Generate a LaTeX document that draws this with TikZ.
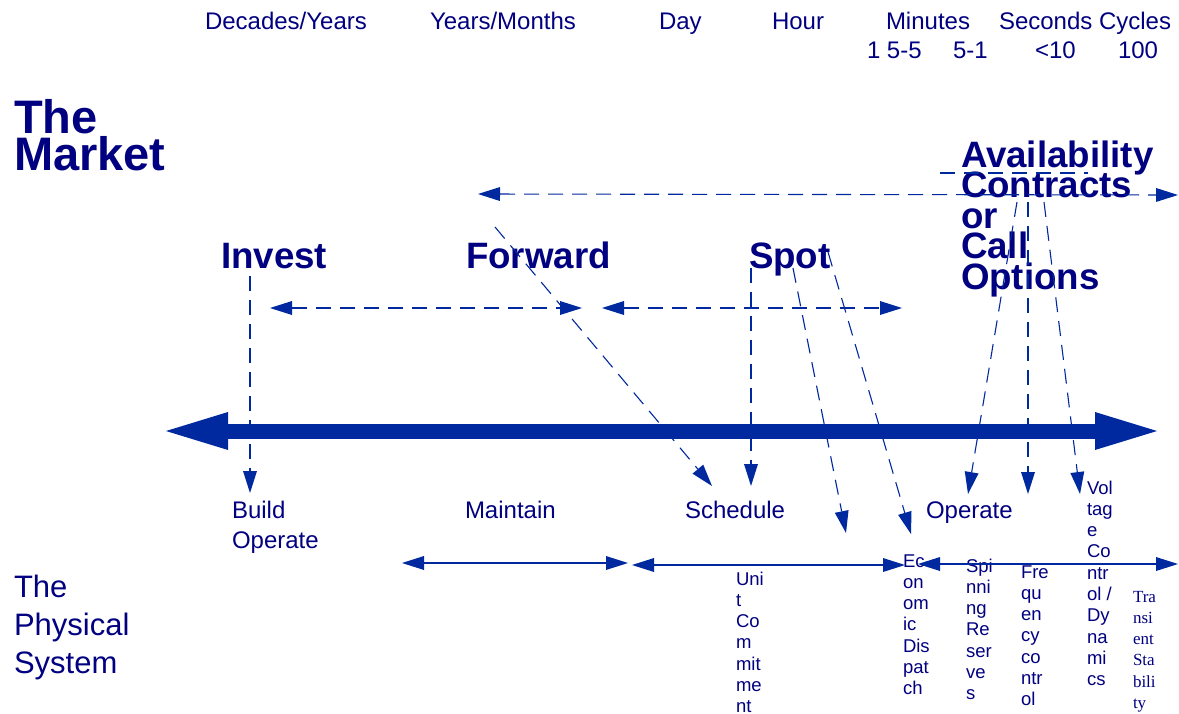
\documentclass[tikz,border=0pt]{standalone}
\usepackage{fontspec}
\setmainfont{Liberation Sans}
\newfontfamily\serifface{Liberation Serif}
\usetikzlibrary{arrows.meta}
\definecolor{txtblue}{RGB}{0,0,128}
\definecolor{lineblue}{RGB}{0,41,160}
\newcommand\vstk[2]{\vtop{\baselineskip=#1\lineskiplimit=-1000pt\relax #2}}
\newcommand\rw[1]{\hbox{#1}}
\tikzset{
  txt/.style={anchor=base west, inner sep=0pt, outer sep=0pt, text=txtblue},
  timetxt/.style={txt, font=\fontsize{24}{28}\selectfont},
  bigtitle/.style={txt, font=\fontsize{47}{37}\selectfont\bfseries},
  midtitle/.style={txt, font=\fontsize{36.7}{30.5}\selectfont\bfseries},
  smalltxt/.style={txt, font=\fontsize{18.5}{21.3}\selectfont},
  seriftxt/.style={txt, font=\serifface\fontsize{17}{21.3}\selectfont},
  systxt/.style={txt, font=\fontsize{31}{38}\selectfont},
  dashlink/.style={draw=lineblue, line width=1.1pt, dash pattern=on 15pt off 9pt,
     -{Triangle[length=22pt,width=14pt,line width=0pt]}},
  dashboth/.style={dashlink, {Triangle[length=22pt,width=14pt,line width=0pt]}-{Triangle[length=22pt,width=14pt,line width=0pt]}},
  dashplain/.style={draw=lineblue, line width=1.1pt, dash pattern=on 15pt off 9pt},
  solidboth/.style={draw=lineblue, line width=2pt,
     {Triangle[length=22pt,width=14pt,line width=0pt]}-{Triangle[length=22pt,width=14pt,line width=0pt]}},
  bigarrow/.style={draw=lineblue, line width=15pt,
     {Triangle[length=62pt,width=38pt,line width=0pt]}-{Triangle[length=62pt,width=38pt,line width=0pt]}}
}
\begin{document}
\begin{tikzpicture}[x=1pt,y=-1pt]
\fill[white] (0,0) rectangle (1179,713);
\useasboundingbox (0,0) rectangle (1179,713);

% time scale
\node[timetxt] (tDec) at (205,29) {Decades/Years};
\node[timetxt] (tYM) at (430,29) {Years/Months};
\node[timetxt] (tDay) at (659,29) {Day};
\node[timetxt] (tHour) at (772,29) {Hour};
\node[timetxt] (tMin) at (886,29) {Minutes};
\node[timetxt] (tSec) at (999,29) {Seconds Cycles};
\node[timetxt] (n1) at (867,58) {1 5-5};
\node[timetxt] (n2) at (953,58) {5-1};
\node[timetxt] (n3) at (1035,58) {<10};
\node[timetxt] (n4) at (1118,58) {100};

% market
\node[bigtitle] (market) at (14,133) {\vstk{37pt}{\rw{The}\rw{Market}}};
\node[midtitle] (invest) at (221,268) {Invest};
\node[midtitle] (forward) at (466,268) {Forward};
\node[midtitle] (spot) at (749,268) {Spot};
\node[midtitle] (avail) at (961,167) {\vstk{30.5pt}{\rw{Availability}\rw{Contracts}\rw{or}\rw{Call}\rw{Options}}};

% physical system
\node[systxt] (physical) at (14,597) {\vstk{38pt}{\rw{The}\rw{Physical}\rw{System}}};
\node[timetxt] (build) at (232,518) {\vstk{30pt}{\rw{Build}\rw{Operate}}};
\node[timetxt] (maintain) at (465,518) {Maintain};
\node[timetxt] (schedule) at (685,518) {Schedule};
\node[timetxt] (operate) at (926,518) {Operate};
\node[smalltxt] (unit) at (736,585) {\vstk{21.3pt}{\rw{Uni}\rw{t}\rw{Co}\rw{m}\rw{mit}\rw{me}\rw{nt}}};
\node[smalltxt] (econ) at (903,567) {\vstk{21.3pt}{\rw{Ec}\rw{on}\rw{om}\rw{ic}\rw{Dis}\rw{pat}\rw{ch}}};
\node[smalltxt] (spin) at (966,572) {\vstk{21.3pt}{\rw{Spi}\rw{nni}\rw{ng}\rw{Re}\rw{ser}\rw{ve}\rw{s}}};
\node[smalltxt] (freq) at (1021,578) {\vstk{21.3pt}{\rw{Fre}\rw{qu}\rw{en}\rw{cy}\rw{co}\rw{ntr}\rw{ol}}};
\node[smalltxt] (volt) at (1087,494) {\vstk{21.3pt}{\rw{Vol}\rw{tag}\rw{e}\rw{Co}\rw{ntr}\rw{ol /}\rw{Dy}\rw{na}\rw{mi}\rw{cs}}};
\node[seriftxt] (trans) at (1133,602) {\vstk{21.3pt}{\rw{Tra}\rw{nsi}\rw{ent}\rw{Sta}\rw{bili}\rw{ty}}};

% coordinates
\coordinate (bigL) at (166,431);
\coordinate (bigR) at (1157,431);
\coordinate (topL) at (478,194);
\coordinate (topR) at (1178,195);
\coordinate (ulA) at (940,173);
\coordinate (ulB) at (1088,173);
\coordinate (m1L) at (270,308);
\coordinate (m1R) at (582,308);
\coordinate (m2L) at (602,308);
\coordinate (m2R) at (902,308);
\coordinate (invS) at (250,276);
\coordinate (invE) at (250,493);
\coordinate (fwS) at (495,227);
\coordinate (fwE) at (712,486);
\coordinate (sp1S) at (751,268);
\coordinate (sp1E) at (751,486);
\coordinate (sp2S) at (793,268);
\coordinate (sp2E) at (846,533);
\coordinate (sp3S) at (828,252);
\coordinate (sp3E) at (911,534);
\coordinate (av1S) at (1017,202);
\coordinate (av1E) at (968,494);
\coordinate (av2S) at (1028,202);
\coordinate (av2E) at (1028,494);
\coordinate (av3S) at (1044,202);
\coordinate (av3E) at (1080,494);
\coordinate (s1L) at (402,563);
\coordinate (s1R) at (628,563);
\coordinate (s2L) at (632,565);
\coordinate (s2R) at (905,565);
\coordinate (s3L) at (918,564);
\coordinate (s3R) at (1178,564);

% connectors
\draw[bigarrow] (bigL) -- (bigR);
\draw[dashboth] (topL) -- (topR);
\draw[dashplain] (ulA) -- (ulB);
\draw[dashboth] (m1L) -- (m1R);
\draw[dashboth] (m2L) -- (m2R);
\draw[dashlink] (invS) -- (invE);
\draw[dashlink] (fwS) -- (fwE);
\draw[dashlink] (sp1S) -- (sp1E);
\draw[dashlink] (sp2S) -- (sp2E);
\draw[dashlink] (sp3S) -- (sp3E);
\draw[dashlink] (av1S) -- (av1E);
\draw[dashlink] (av2S) -- (av2E);
\draw[dashlink] (av3S) -- (av3E);
\draw[solidboth] (s1L) -- (s1R);
\draw[solidboth] (s2L) -- (s2R);
\draw[solidboth] (s3L) -- (s3R);
\end{tikzpicture}
\end{document}
